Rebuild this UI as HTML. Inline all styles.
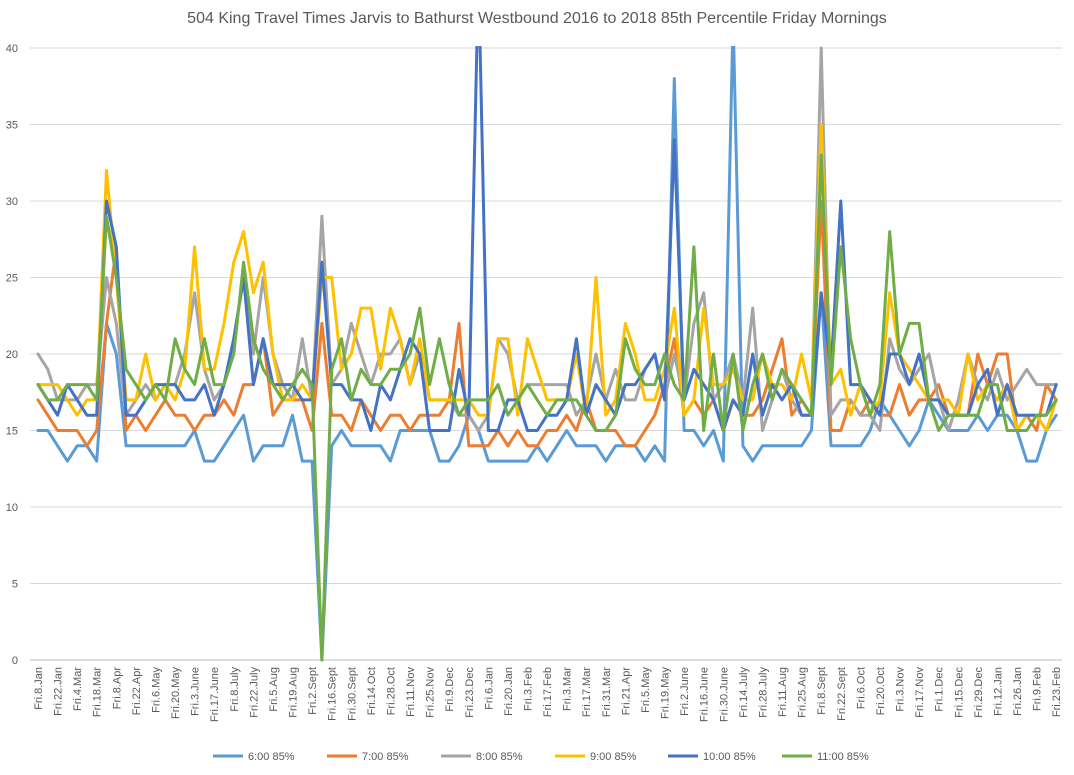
<!DOCTYPE html>
<html><head><meta charset="utf-8"><style>
body{margin:0;background:#fff;width:1074px;height:775px;overflow:hidden}
svg{display:block}
text{font-family:"Liberation Sans",sans-serif}
</style></head><body>
<svg id="c" width="1074" height="775" xmlns="http://www.w3.org/2000/svg">
<defs><clipPath id="cp"><rect x="28" y="46" width="1040" height="618"/></clipPath></defs>
<text x="537" y="23" text-anchor="middle" font-size="16" fill="#595959">504 King Travel Times Jarvis to Bathurst Westbound 2016 to 2018 85th Percentile Friday Mornings</text>
<g id="grid"></g><g id="lines" clip-path="url(#cp)"></g><g id="xl"></g><g id="leg"></g>
</svg>
<script>
var Y=function(v){return 660-15.3*v};
var X=function(i){return 38+9.79*i};
var s="http://www.w3.org/2000/svg";
function el(p,t,a,txt){var e=document.createElementNS(s,t);for(var k in a)e.setAttribute(k,a[k]);if(txt!==undefined)e.textContent=txt;p.appendChild(e);return e}
var g=document.getElementById('grid');
for(var v=0;v<=40;v+=5){el(g,'line',{x1:30,x2:1062,y1:Y(v),y2:Y(v),stroke:v==0?'#bfbfbf':'#d9d9d9','stroke-width':1});
el(g,'text',{x:18,y:Y(v)+4,'text-anchor':'end','font-size':11,fill:'#595959'},String(v));}
var labs="8.Jan,22.Jan,4.Mar,18.Mar,8.Apr,22.Apr,6.May,20.May,3.June,17.June,8.July,22.July,5.Aug,19.Aug,2.Sept,16.Sept,30.Sept,14.Oct,28.Oct,11.Nov,25.Nov,9.Dec,23.Dec,6.Jan,20.Jan,3.Feb,17.Feb,3.Mar,17.Mar,31.Mar,21.Apr,5.May,19.May,2.June,16.June,30.June,14.July,28.July,11.Aug,25.Aug,8.Sept,22.Sept,6.Oct,20.Oct,3.Nov,17.Nov,1.Dec,15.Dec,29.Dec,12.Jan,26.Jan,9.Feb,23.Feb".split(",");
var xl=document.getElementById('xl');
labs.forEach(function(l,k){var x=X(2*k)+4;el(xl,'text',{transform:'translate('+x+',667) rotate(-90)','text-anchor':'end','font-size':11,fill:'#595959'},'Fri.'+l)});
var D=[
["#5B9BD5",[15,15,14,13,14,14,13,22,20,14, 14,14,14,14,14,14,15,13,13,14, 15,16,13,14,14,14,16,13,13,0, 14,15,14,14,14,14,13,15,15,15, 15,13,13,14,16,15,13,13,13,13, 13,14,13,14,15,14,14,14,13,14, 14,14,13,14,13,38,15,15,14,15, 13,42,14,13,14,14,14,14,14,15, 24,14,14,14,14,15,17,16,15,14, 15,17,16,15,15,15,16,15,16,16, 15,13,13,15,16]],
["#ED7D31",[17,16,15,15,15,14,15,22,27,15, 16,15,16,17,16,16,15,16,16,17, 16,18,18,21,16,17,17,17,15,22, 16,16,15,17,16,15,16,16,15,16, 16,16,17,22,14,14,14,15,14,15, 14,14,15,15,16,15,17,15,15,15, 14,14,15,16,18,21,16,17,16,17, 15,17,16,16,17,19,21,16,17,16, 30,15,15,17,16,17,16,16,18,16, 17,17,18,16,16,16,20,18,20,20, 15,16,15,18,17]],
["#A5A5A5",[20,19,17,17,17,18,18,25,22,16, 17,18,17,18,18,20,24,19,17,18, 21,25,20,25,20,18,17,21,17,29, 18,19,22,20,18,20,20,21,18,20, 17,17,17,16,16,15,16,21,20,17, 18,18,18,18,18,16,17,20,17,19, 17,17,19,20,17,20,17,22,24,17, 18,20,17,23,15,17,19,17,16,16, 40,16,17,17,16,16,15,21,19,18, 19,20,17,15,17,20,18,17,19,17, 18,19,18,18,18]],
["#FFC000",[18,18,18,17,16,17,17,32,25,17, 17,20,17,18,17,19,27,19,19,22, 26,28,24,26,20,17,17,18,17,25, 25,19,20,23,23,19,23,21,18,21, 17,17,17,17,17,16,16,21,21,16, 21,19,17,17,17,20,16,25,16,17, 22,20,17,17,19,23,16,17,23,18, 18,19,17,17,20,18,18,17,20,17, 35,18,19,16,18,16,17,24,20,19, 18,17,17,17,16,20,17,18,17,18, 15,16,16,15,17]],
["#4472C4",[18,17,16,18,17,16,16,30,27,16, 16,17,18,18,18,17,17,18,16,18, 21,25,18,21,18,18,18,17,17,26, 18,18,17,17,15,18,17,19,21,20, 15,15,15,19,16,45,15,15,17,17, 15,15,16,16,17,21,16,18,17,16, 18,18,19,20,17,34,17,19,18,17, 15,17,16,20,16,18,17,18,16,16, 24,19,30,18,18,17,16,20,20,18, 20,17,17,16,16,16,18,19,16,18, 16,16,16,16,18]],
["#70AD47",[18,17,17,18,18,18,17,29,25,19, 18,17,18,17,21,19,18,21,18,18, 20,26,21,19,18,17,18,19,18,0, 19,21,17,19,18,18,19,19,20,23, 18,21,18,16,17,17,17,18,16,17, 18,17,16,17,17,17,16,15,15,16, 21,19,18,18,20,18,17,27,15,20, 15,20,15,18,20,17,19,18,17,16, 33,18,27,21,18,16,18,28,20,22, 22,17,15,16,16,16,16,18,18,15, 15,15,16,16,17]]
];
var L=document.getElementById('lines');
D.forEach(function(d){var p=d[1].map(function(v,i){return X(i).toFixed(1)+','+Y(v).toFixed(1)}).join(' ');
el(L,'polyline',{points:p,fill:'none',stroke:d[0],'stroke-width':3,'stroke-linejoin':'round','stroke-linecap':'round'})});
var names=["6:00 85%","7:00 85%","8:00 85%","9:00 85%","10:00 85%","11:00 85%"];
var lx=[213,327,441,555,668,782];var lg=document.getElementById('leg');
names.forEach(function(n,k){el(lg,'line',{x1:lx[k],x2:lx[k]+30,y1:756,y2:756,stroke:D[k][0],'stroke-width':3});
el(lg,'text',{x:lx[k]+35,y:760,'font-size':11,fill:'#595959'},n)});
</script>
</body></html>
